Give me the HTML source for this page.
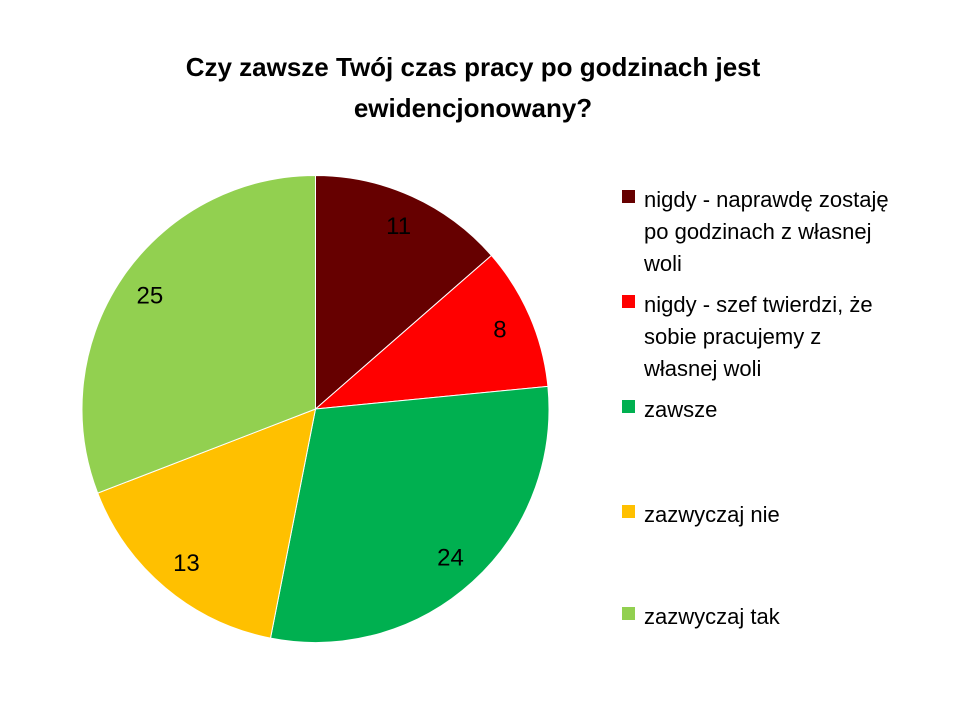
<!DOCTYPE html>
<html><head><meta charset="utf-8"><style>
body{margin:0;background:#fff;}
svg text{font-family:"Liberation Sans",Calibri,sans-serif;}
</style></head><body>
<svg id="chart" width="960" height="720" viewBox="0 0 960 720">
<text x="473" y="76" text-anchor="middle" font-size="26" font-weight="bold">Czy zawsze Twój czas pracy po godzinach jest</text>
<text x="473" y="117" text-anchor="middle" font-size="26" font-weight="bold">ewidencjonowany?</text>
<g id="slices"></g>
<g id="legend"></g>
</svg>
<script>
const categories = [["nigdy - naprawdę zostaję","po godzinach z własnej","woli"],["nigdy - szef twierdzi, że","sobie pracujemy z","własnej woli"],["zawsze"],["zazwyczaj nie"],["zazwyczaj tak"]];
const values = [11, 8, 24, 13, 25];
const colors = ["#660000","#FF0000","#00B050","#FFC000","#92D050"];
const legendY = [200, 305, 410, 515, 617];
const NS="http://www.w3.org/2000/svg";
const cx=315.5, cy=409, r=233.5;
const total=values.reduce((a,b)=>a+b,0);
const sg=document.getElementById('slices');
let acc=0;
function pt(a,rad){return [cx+rad*Math.sin(a), cy-rad*Math.cos(a)];}
values.forEach((v,i)=>{
  const a0=acc/total*2*Math.PI; acc+=v; const a1=acc/total*2*Math.PI;
  const p0=pt(a0,r), p1=pt(a1,r);
  const large=(a1-a0)>Math.PI?1:0;
  const path=document.createElementNS(NS,'path');
  path.setAttribute('d',`M${cx},${cy} L${p0[0]},${p0[1]} A${r},${r} 0 ${large} 1 ${p1[0]},${p1[1]} Z`);
  path.setAttribute('fill',colors[i]);
  path.setAttribute('stroke','#fff');
  path.setAttribute('stroke-width','1');
  
  
  sg.appendChild(path);
  const m=(a0+a1)/2, lp=pt(m,r*0.86);
  const t=document.createElementNS(NS,'text');
  t.setAttribute('x',lp[0]); t.setAttribute('y',lp[1]+8);
  t.setAttribute('text-anchor','middle'); t.setAttribute('font-size','24');
  t.textContent=v;
  
  
  sg.appendChild(t);
});
const lg=document.getElementById('legend');
categories.forEach((lines,i)=>{
  const g=document.createElementNS(NS,'g');
  
  
  const rc=document.createElementNS(NS,'rect');
  rc.setAttribute('x',622); rc.setAttribute('y',legendY[i]-10);
  rc.setAttribute('width',13); rc.setAttribute('height',13);
  rc.setAttribute('fill',colors[i]);
  g.appendChild(rc);
  lines.forEach((ln,j)=>{
    const t=document.createElementNS(NS,'text');
    t.setAttribute('x',644); t.setAttribute('y',legendY[i]+7+j*32);
    t.setAttribute('font-size','22');
    t.textContent=ln;
    g.appendChild(t);
  });
  lg.appendChild(g);
});
</script>
</body></html>
